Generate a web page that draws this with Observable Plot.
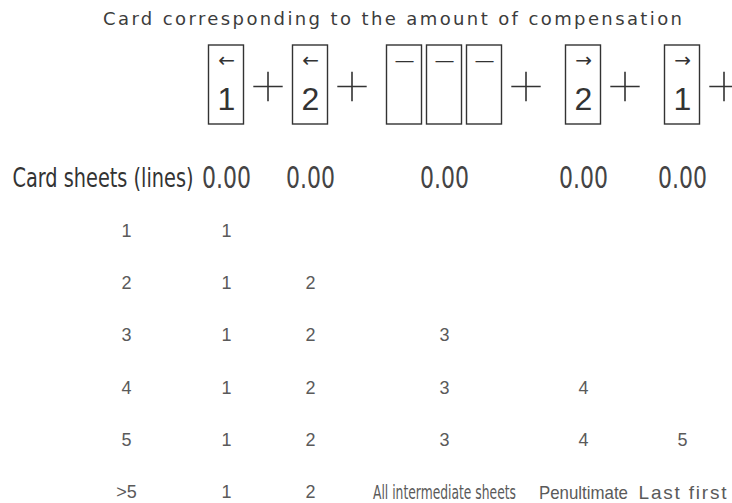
<!DOCTYPE html>
<html><head><meta charset="utf-8">
<script src="https://cdn.jsdelivr.net/npm/d3@7"></script>
<script src="https://cdn.jsdelivr.net/npm/@observablehq/plot@0.6"></script>
<style>body{margin:0;background:#fff;} svg{display:block}</style>
</head><body><div id="chart"></div>
<script>
// ---- data ----
const titleText = "Card corresponding to the amount of compensation";
const headerLabel = "Card sheets (lines)";
const headerValues = ["0.00", "0.00", "0.00", "0.00", "0.00"];
const rowLabels = ["1", "2", "3", "4", "5", ">5"];
const cardArrows = ["←", "←", "—", "→", "→"];
const cardDigits = ["1", "2", "", "2", "1"];
const cardCounts = [1, 1, 3, 1, 1];
const tableValues = [
  ["1", "", "", "", ""],
  ["1", "2", "", "", ""],
  ["1", "2", "3", "", ""],
  ["1", "2", "3", "4", ""],
  ["1", "2", "3", "4", "5"],
  ["1", "2", "All intermediate sheets", "Penultimate", "Last first"]
];

// ---- derived tables ----
const columns = d3.range(1, headerValues.length + 1);
const cards = columns.flatMap((col, i) =>
  d3.range(cardCounts[i]).map(k => ({col, sub: k - (cardCounts[i] - 1) / 2, arrow: cardArrows[i], digit: cardDigits[i]})));
const pluses = columns.map((col, i) => ({col, count: cardCounts[i]}));
const cells = tableValues.flatMap((row, r) => row.map((text, c) => ({row: r + 1, col: c + 1, text}))).filter(d => d.text !== "");
const rows = rowLabels.map((label, r) => ({row: r + 1, label}));
const header = headerValues.map((text, i) => ({col: i + 1, text}));

// ---- styles ----
const ink = "#333", grey = "#5a5a5a";
const narrow = "'Liberation Sans Narrow', 'DejaVu Sans Condensed', 'Liberation Sans', sans-serif";
const cardWidth = 35, cardGap = 40, plusGap = 24;

const cardMarks = [-1, 0, 1].flatMap(sub => {
  const data = cards.filter(d => d.sub === sub);
  return [
    Plot.rect(data, {x1: "col", x2: "col", insetLeft: -cardWidth / 2, insetRight: -cardWidth / 2,
      insetTop: 45, insetBottom: 379, dx: sub * cardGap, stroke: ink, strokeWidth: 1.4, fill: "none"}),
    Plot.text(data, {x: "col", text: "arrow", frameAnchor: "top", lineAnchor: "middle", dy: 60,
      dx: sub * cardGap, fontSize: 20, fontFamily: "DejaVu Sans", fill: ink})
  ];
});

const plusMarks = [...new Set(cardCounts)].map(count =>
  Plot.dot(pluses.filter(d => d.count === count), {x: "col", frameAnchor: "top", dy: 86,
    dx: (count - 1) / 2 * cardGap + cardWidth / 2 + plusGap, symbol: "plus", r: 9.5,
    stroke: ink, strokeWidth: 1.6}));

const svg = Plot.plot({
  width: 732,
  height: 503,
  margin: 0,
  style: {fontFamily: "Liberation Sans", background: "white", overflow: "visible"},
  x: {type: "linear", domain: [0, 1, 2, 3, 4, 5], range: [126, 226, 310, 444, 583, 682], axis: null},
  y: {type: "linear", domain: [0, 6], range: [178, 492], axis: null},
  marks: [
    Plot.text([titleText], {text: d => d, frameAnchor: "top", lineAnchor: "middle", dy: 19, dx: 26,
      fontSize: 18, fontFamily: "DejaVu Sans", fill: "#3c3c3c"}),
    ...cardMarks,
    Plot.text(cards.filter(d => d.sub === 0 && d.digit), {x: "col", text: "digit", frameAnchor: "top",
      lineAnchor: "middle", dy: 99, fontSize: 32, fill: ink}),
    ...plusMarks,
    Plot.text([headerLabel], {y: [0], text: d => d, frameAnchor: "left", textAnchor: "start", dx: 12,
      fontSize: 27, fontFamily: narrow, fill: ink}),
    Plot.text(header, {x: "col", y: [0, 0, 0, 0, 0], text: "text", fontSize: 31, fontFamily: narrow, fill: "#444"}),
    Plot.text(rows, {x: 0, y: "row", text: "label", fontSize: 18, fill: grey}),
    Plot.text(cells, {x: "col", y: "row", text: "text", fontSize: 18, fill: grey})
  ]
});
document.getElementById("chart").append(svg);

// condensed / spaced text widths (and sizes) as in the reference
const fitText = new Map([
  [titleText, {width: 579}],
  [headerLabel, {width: 181}],
  ["0.00", {width: 49}],
  ["All intermediate sheets", {width: 143, size: 19, family: narrow}],
  ["Penultimate", {width: 89, size: 19}],
  ["Last first", {width: 88, size: 19}]
]);
d3.select(svg).selectAll("text").each(function () {
  const fit = fitText.get(this.textContent);
  if (!fit) return;
  if (fit.size) this.setAttribute("font-size", fit.size);
  if (fit.family) this.setAttribute("font-family", fit.family);
  const natural = this.getComputedTextLength();
  this.setAttribute("textLength", fit.width);
  this.setAttribute("lengthAdjust", fit.width < natural ? "spacingAndGlyphs" : "spacing");
});
</script>
</body></html>
